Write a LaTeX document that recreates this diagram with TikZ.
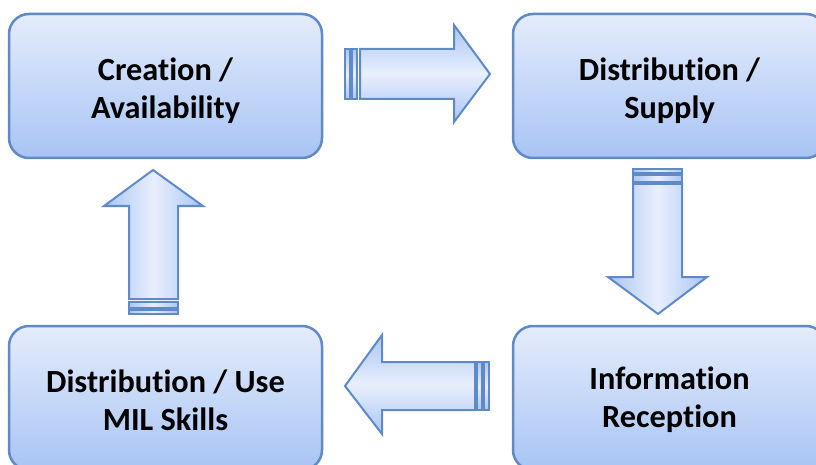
\documentclass[tikz,border=0pt]{standalone}
\usepackage{fontspec}
\setmainfont[Ligatures={NoCommon,NoRequired,NoContextual}]{Carlito}
\definecolor{bord}{HTML}{5F8AC6}
\definecolor{boxtop}{HTML}{E4ECFB}
\definecolor{boxbot}{HTML}{A8C4F4}
\definecolor{arredge}{HTML}{A9C5F5}
\definecolor{arrmid}{HTML}{E8EFFC}
\tikzset{
  x=1pt,y=-1pt,
  box/.style={draw=bord, line width=2.5pt, rounded corners=20pt,
    top color=boxtop, bottom color=boxbot, minimum width=313pt,
    minimum height=144pt, inner sep=0pt},
  lbl/.style={align=center, inner sep=0pt,
    font=\bfseries\fontsize{32.3}{38}\selectfont},
  harr/.style={draw=bord, line width=2pt, line join=miter,
    top color=arredge, bottom color=arredge, middle color=arrmid},
  varr/.style={draw=bord, line width=2pt, line join=miter,
    left color=arredge, right color=arredge, middle color=arrmid},
}
\begin{document}
\begin{tikzpicture}
\useasboundingbox (0,0) rectangle (816,465);
\clip (0,0) rectangle (816,465);
\node[box] (create) at (165.5,86) {};
\node[box] (dist) at (669.5,86) {};
\node[box] (use) at (165.5,398) {};
\node[box] (info) at (669.5,398) {};
\node[lbl] (createT) at (165.5,90.5) {Creation /\\Availability};
\node[lbl] (distT) at (669.5,90.5) {Distribution /\\Supply};
\node[lbl] (useT) at (165.5,400) {Distribution / Use\\MIL Skills};
\node[lbl] (infoT) at (669.5,400) {Information\\Reception};
% right arrow (create -> dist)
\draw[harr] (345,49) rectangle (350,99);
\draw[harr] (352,49) rectangle (357,99);
\draw[harr] (360,49) -- (454,49) -- (454,25) -- (490,74) -- (454,122) -- (454,99) -- (360,99) -- cycle;
% down arrow (dist -> info)
\draw[varr] (633,169) rectangle (682,173);
\draw[varr] (633,175) rectangle (682,182);
\draw[varr] (633,184) -- (633,277) -- (608,277) -- (658,314) -- (707,277) -- (682,277) -- (682,184) -- cycle;
% left arrow (info -> use)
\draw[harr] (484,362) rectangle (489,410);
\draw[harr] (477,362) rectangle (482,410);
\draw[harr] (475,362) -- (382,362) -- (382,335) -- (345,386) -- (382,434) -- (382,410) -- (475,410) -- cycle;
% up arrow (use -> create)
\draw[varr] (129,310) rectangle (178,314);
\draw[varr] (129,302) rectangle (178,308);
\draw[varr] (129,299) -- (129,206) -- (104,206) -- (153,170) -- (203,206) -- (178,206) -- (178,299) -- cycle;
\end{tikzpicture}
\end{document}
